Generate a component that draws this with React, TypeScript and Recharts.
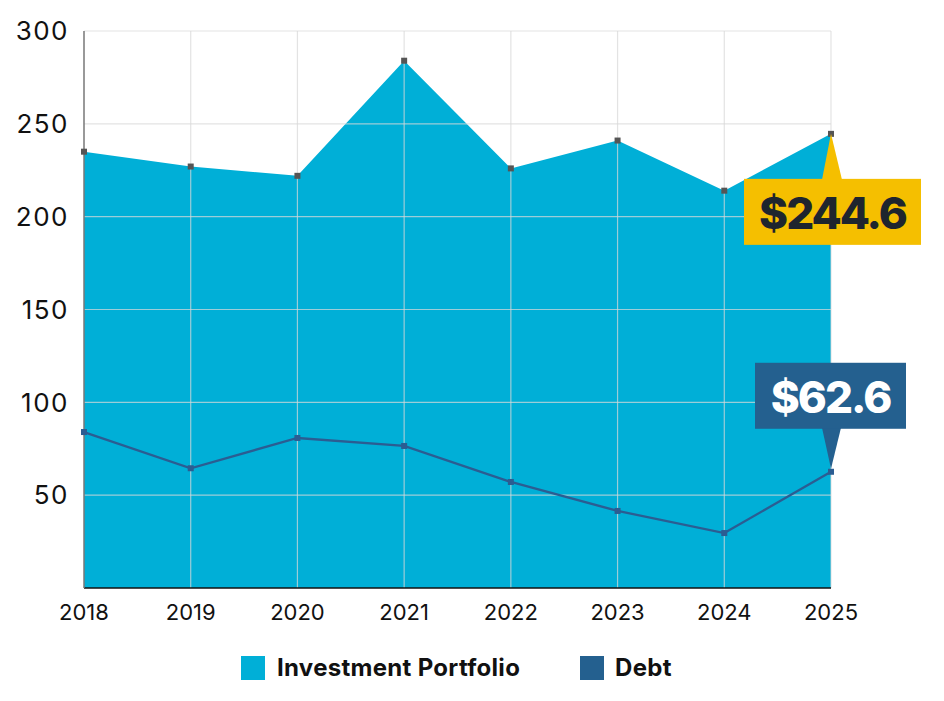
import React from "react";
import { ComposedChart, Area, Line, XAxis, YAxis, ReferenceLine, LabelList } from "recharts";

const years = ["2018", "2019", "2020", "2021", "2022", "2023", "2024", "2025"];
const investment = [235, 227, 222, 284, 226, 241, 214, 244.6];
const debt = [84, 64.5, 80.8, 76.5, 57.1, 41.5, 29.6, 62.6];
const yTicks = [50, 100, 150, 200, 250, 300];

const data = years.map((y, i) => ({ year: y, investment: investment[i], debt: debt[i] }));

const FONT = "Inter, 'Noto Sans', sans-serif";
const INV_COLOR = "#00afd7";
const DEBT_COLOR = "#24608f";
const GRID = "#d8d8d8";

const SquareDot = (color: string, size: number) => (props: any) => {
  const { cx, cy, index } = props;
  if (cx == null || cy == null) return <g key={index} />;
  return <rect key={index} x={cx - size / 2} y={cy - size / 2} width={size} height={size} fill={color} />;
};

const InvCallout = (props: any) => {
  const { x, y, index, value } = props;
  if (index !== years.length - 1) return null;
  const bx = x - 87, by = y + 45, bw = 177, bh = 66;
  return (
    <g>
      <polygon points={`${x},${y} ${x - 9},${by + 1} ${x + 11},${by + 1}`} fill="#f5bf00" />
      <rect x={bx} y={by} width={bw} height={bh} fill="#f5bf00" />
      <text x={bx + bw / 2} y={by + bh / 2 + 1} textAnchor="middle" dominantBaseline="central"
        fontFamily={FONT} fontWeight={800} fontSize={44} letterSpacing={-2} fill="#1e252e">{`$${value}`}</text>
    </g>
  );
};

const DebtCallout = (props: any) => {
  const { x, y, index, value } = props;
  if (index !== years.length - 1) return null;
  const bx = x - 76, by = y - 109, bw = 151, bh = 66;
  return (
    <g>
      <polygon points={`${x},${y - 3} ${x - 9},${by + bh - 1} ${x + 10},${by + bh - 1}`} fill={DEBT_COLOR} />
      <rect x={bx} y={by} width={bw} height={bh} fill={DEBT_COLOR} />
      <text x={bx + bw / 2} y={by + bh / 2 + 1} textAnchor="middle" dominantBaseline="central"
        fontFamily={FONT} fontWeight={800} fontSize={44} letterSpacing={-2} fill="#ffffff">{`$${value}`}</text>
    </g>
  );
};

export default function App() {
  return (
    <div style={{ position: "absolute", left: 0, top: 0, width: 944, height: 701, background: "#fff" }}>
      <ComposedChart width={944} height={701} data={data} margin={{ top: 31, right: 113, left: 0, bottom: 73 }}>
        <XAxis dataKey="year" axisLine={{ stroke: "#111", strokeWidth: 1.5 }} tickLine={false}
          tick={{ fontFamily: FONT, fontSize: 22, fill: "#111" }} tickMargin={10} height={40} />
        <YAxis domain={[0, 300]} ticks={yTicks} axisLine={{ stroke: "#777", strokeWidth: 1.5 }} tickLine={false}
          tick={{ fontFamily: FONT, fontSize: 26, fill: "#111", letterSpacing: 1.5 }} tickMargin={9} width={84} />
        <Area type="linear" dataKey="investment" name="Investment Portfolio" fill={INV_COLOR} fillOpacity={1}
          stroke="none" isAnimationActive={false} dot={false} activeDot={false} />
        {yTicks.map((t) => (
          <ReferenceLine key={`h${t}`} y={t} stroke={GRID} strokeOpacity={0.72} strokeWidth={1.2} />
        ))}
        {years.slice(1).map((yr) => (
          <ReferenceLine key={`v${yr}`} x={yr} stroke={GRID} strokeOpacity={0.72} strokeWidth={1.2} />
        ))}
        <Line type="linear" dataKey="debt" name="Debt" stroke="#2b5d92" strokeWidth={2.3}
          isAnimationActive={false} dot={SquareDot("#2b5d92", 6)} activeDot={false}>
          <LabelList dataKey="debt" content={DebtCallout} />
        </Line>
        <Line type="linear" dataKey="investment" stroke="none" isAnimationActive={false}
          dot={SquareDot("#555", 6)} activeDot={false} legendType="none">
          <LabelList dataKey="investment" content={InvCallout} />
        </Line>
      </ComposedChart>
      <div style={{ position: "absolute", left: 0, top: 654, width: 944, display: "flex", alignItems: "center", fontFamily: FONT, fontWeight: 700, fontSize: 24, letterSpacing: 0.3, color: "#111" }}>
        <span style={{ position: "absolute", left: 241, top: 2, width: 24, height: 24, background: INV_COLOR }} />
        <span style={{ position: "absolute", left: 277, top: 0, lineHeight: "28px" }}>Investment Portfolio</span>
        <span style={{ position: "absolute", left: 580, top: 2, width: 24, height: 24, background: DEBT_COLOR }} />
        <span style={{ position: "absolute", left: 615, top: 0, lineHeight: "28px" }}>Debt</span>
      </div>
    </div>
  );
}
